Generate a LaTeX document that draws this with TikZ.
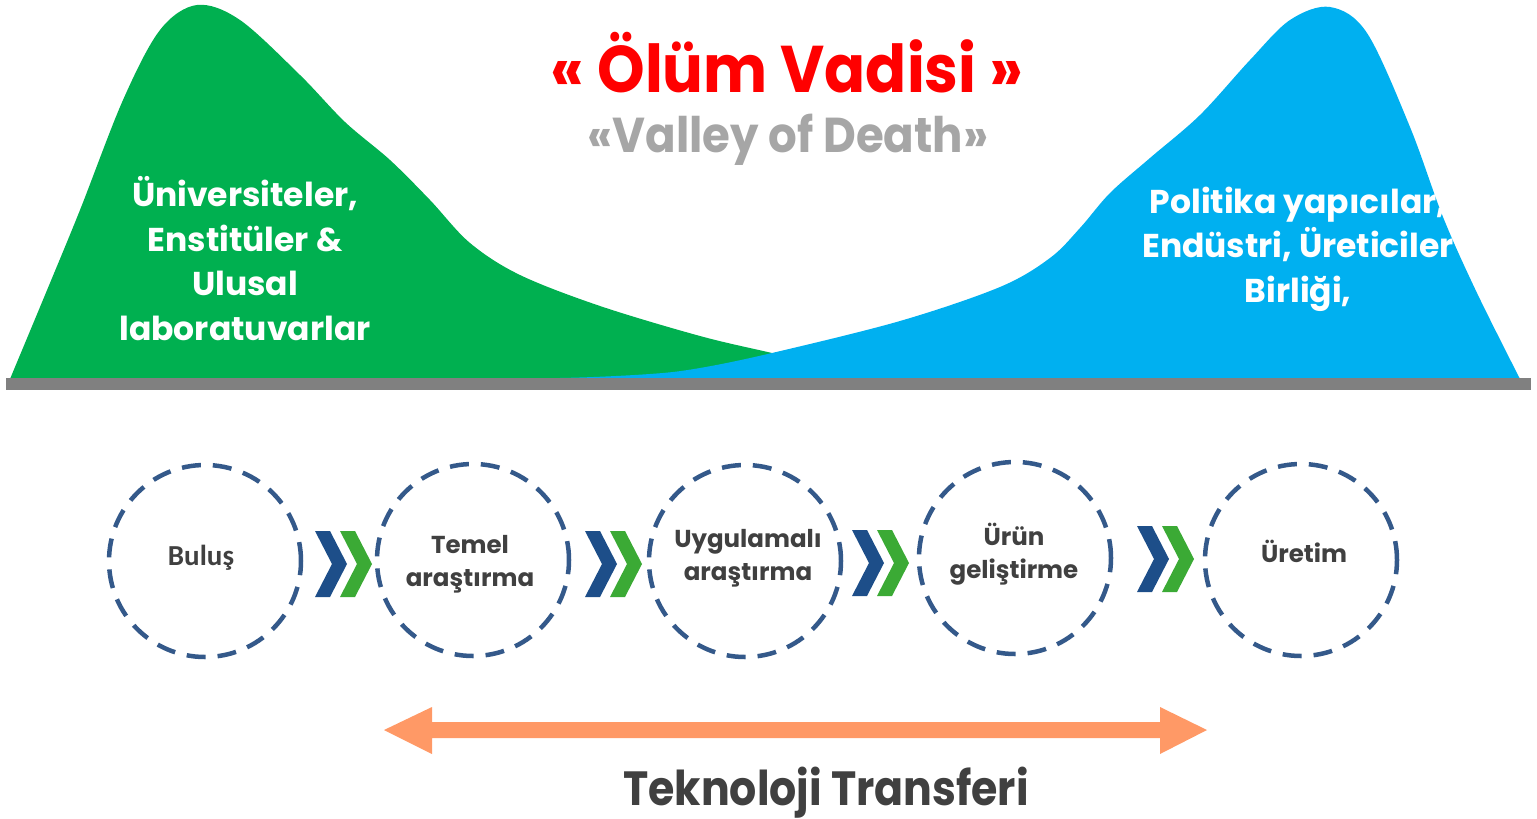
\documentclass[tikz,border=0pt]{standalone}
\usepackage{fontspec}
\setmainfont{Poppins}
\newfontfamily\carl{Carlito}
\definecolor{mgreen}{HTML}{00B050}
\definecolor{mblue}{HTML}{00B0F0}
\definecolor{barg}{HTML}{808080}
\definecolor{tred}{HTML}{FF0000}
\definecolor{tgray}{HTML}{A6A6A6}
\definecolor{dtext}{HTML}{404040}
\definecolor{circ}{HTML}{34598A}
\definecolor{chevb}{HTML}{1D4E89}
\definecolor{chevg}{HTML}{3BAA35}
\definecolor{orng}{HTML}{FF9966}
\tikzset{
  stage/.style={circle, draw=circ, line width=4.5pt, dash pattern=on 19pt off 12pt, minimum size=192pt, inner sep=0pt},
  stagetxt/.style={text=dtext, font=\bfseries\fontsize{24.5}{32.5}\selectfont, align=center, inner sep=0pt},
  hilltxt/.style={text=white, font=\bfseries\fontsize{33}{44.5}\selectfont, align=center, inner sep=0pt},
  chevs/.pic={
    \fill[chevb] (0,-33) -- (15,-33) -- (32,0) -- (15,33) -- (0,33) -- (17,0) -- cycle;
    \fill[chevg] (25,-33) -- (40,-33) -- (57,0) -- (40,33) -- (25,33) -- (42,0) -- cycle;
  }
}
\begin{document}
\begin{tikzpicture}[x=1pt,y=-1pt]
\useasboundingbox (0,0) rectangle (1537,819);
% hills
\fill[mgreen] plot[smooth,tension=0.55] coordinates {(10,379)(45,295)(80,210)(123,100)(160,30)(197,5)(240,20)(300,75)(345,122)(390,160)(430,200)(470,243)(520,275)(600,306)(700,336)(772,353)(850,371)(920,379)} -- cycle;
\fill[mblue] plot[smooth,tension=0.55] coordinates {(440,378)(560,378)(650,374)(700,368)(772,353)(900,321)(1000,287)(1050,258)(1080,228)(1110,193)(1150,158)(1200,115)(1250,60)(1290,20)(1330,7)(1367,33)(1410,127)(1443,217)(1477,293)(1520,379)} -- cycle;
\fill[barg] (6,378) rectangle (1531,390);
% titles
\node[anchor=base, text=tred, font=\bfseries\fontsize{66}{80}\selectfont, inner sep=0pt] (title) at (787,92) {\scalebox{0.917}[1]{« Ölüm Vadisi »}};
\node[anchor=base, text=tgray, font=\bfseries\fontsize{49}{60}\selectfont, inner sep=0pt] (subtitle) at (788,152) {\scalebox{0.92}[1]{«Valley of Death»}};
\node[hilltxt, anchor=base] (gtxt) at (245,340) {Üniversiteler,\\Enstitüler \&\\Ulusal\\laboratuvarlar};
\node[hilltxt, anchor=base] (btxt) at (1298,302) {Politika yapıcılar,\\Endüstri, Üreticiler\\Birliği,};
% stages
\node[stage] (s1) at (205,561) {};
\node[stage] (s2) at (473,560) {};
\node[stage] (s3) at (745,561) {};
\node[stage] (s4) at (1015,558) {};
\node[stage] (s5) at (1301,560) {};
\node[anchor=base, text=dtext, font=\carl\bfseries\fontsize{29}{33}\selectfont, inner sep=0pt] (t1) at (201,565) {Buluş};
\node[stagetxt, anchor=base] (t2) at (470,586) {Temel\\araştırma};
\node[stagetxt, anchor=base] (t3) at (748,580) {Uygulamalı\\araştırma};
\node[stagetxt, anchor=base] (t4) at (1014,578) {Ürün\\geliştirme};
\node[stagetxt, anchor=base] (t5) at (1304,562) {Üretim};
% chevrons
\pic at (315,564) {chevs};
\pic at (585,564) {chevs};
\pic at (852,563) {chevs};
\pic at (1137,559) {chevs};
% transfer arrow
\fill[orng] (384,730) -- (432,707) -- (432,722) -- (1160,722) -- (1160,707) -- (1207,730) -- (1160,754) -- (1160,738) -- (432,738) -- (432,754) -- cycle;
\node[anchor=base, text=dtext, font=\bfseries\fontsize{48}{60}\selectfont, inner sep=0pt] (tt) at (826,805) {\scalebox{0.89}[1]{Teknoloji Transferi}};
\end{tikzpicture}
\end{document}
